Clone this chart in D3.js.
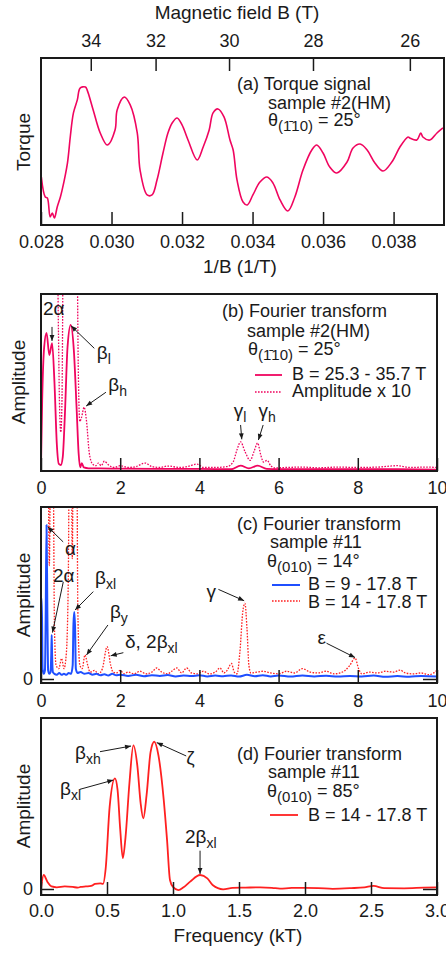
<!DOCTYPE html>
<html>
<head>
<meta charset="utf-8">
<script src="https://cdn.jsdelivr.net/npm/d3@7"></script>
<style>
body { margin: 0; background: #fff; }
svg { font-family: "Liberation Sans", Arial, Helvetica, sans-serif; }
</style>
</head>
<body>
<svg id="chart" width="446" height="953"></svg>
<script>
// PANEL (a) TORQUE SIGNAL vs 1/B
var torqueInvB = [0.02801, 0.02812, 0.02818, 0.02826, 0.02832, 0.02838, 0.02846, 0.02855, 0.02860, 0.02875, 0.02883, 0.02892, 0.02903, 0.02911, 0.02926, 0.02931, 0.02948, 0.02968, 0.02988, 0.03010, 0.03016, 0.03036, 0.03053, 0.03073, 0.03081, 0.03101, 0.03115, 0.03129, 0.03146, 0.03160, 0.03172, 0.03186, 0.03200, 0.03217, 0.03243, 0.03260, 0.03277, 0.03288, 0.03302, 0.03319, 0.03336, 0.03345, 0.03356, 0.03373, 0.03385, 0.03401, 0.03421, 0.03441, 0.03458, 0.03478, 0.03500, 0.03520, 0.03543, 0.03568, 0.03582, 0.03600, 0.03619, 0.03639, 0.03668, 0.03685, 0.03705, 0.03725, 0.03747, 0.03770, 0.03795, 0.03818, 0.03841, 0.03846, 0.03866, 0.03877, 0.03883, 0.03903, 0.03923, 0.03940];
var torqueSignal = [28.7, 16.8, 16.2, 4.8, 7.2, 4.2, 10.8, 16.8, 21.0, 37.1, 52.7, 67.1, 74.9, 82.0, 82.6, 80.8, 68.9, 55.1, 47.9, 56.9, 68.9, 76.6, 71.9, 55.1, 32.9, 18.0, 18.0, 26.9, 43.1, 55.1, 61.1, 64.1, 59.9, 50.9, 38.9, 46.7, 56.9, 67.1, 69.5, 64.7, 50.9, 44.9, 26.9, 13.8, 12.0, 18.0, 25.7, 28.7, 25.1, 15.0, 8.4, 16.8, 32.9, 44.9, 47.9, 43.1, 34.7, 31.1, 37.7, 46.1, 48.5, 44.9, 37.1, 32.3, 37.7, 46.7, 52.7, 52.1, 50.9, 55.1, 52.7, 50.9, 55.1, 58.1];
var invBTicks = [0.028, 0.030, 0.032, 0.034, 0.036, 0.038];
var fieldTicks = [34, 32, 30, 28, 26];

// PANEL (b) FFT sample #2
var fftBFreq = [0, 0.03, 0.08, 0.14, 0.21, 0.28, 0.34, 0.40, 0.45, 0.50, 0.55, 0.60, 0.67, 0.75, 0.83, 0.90, 0.95, 0.99, 1.03, 1.08, 1.2, 1.5, 2, 3, 4, 4.8, 5.04, 5.25, 5.47, 5.7, 6, 7, 8, 9, 10];
var fftBAmp = [2, 40, 70, 78, 65.5, 72.3, 50, 15, 4, 3.4, 8, 30, 70, 82.5, 68, 35, 10, 2, 4.5, 2, 1.5, 1.5, 1.3, 1.2, 1.2, 1, 3, 1.5, 3, 1.2, 1, 1, 1, 1, 0.8];
var fftBx10Freq = [0, 0.40, 0.44, 0.47, 0.50, 0.53, 0.57, 0.90, 0.94, 0.98, 1.02, 1.09, 1.15, 1.22, 1.3, 1.38, 1.45, 1.52, 1.6, 1.7, 1.85, 2.0, 2.2, 2.4, 2.63, 2.8, 3.0, 3.2, 3.5, 3.7, 3.94, 4.1, 4.4, 4.7, 4.85, 4.95, 5.04, 5.15, 5.28, 5.38, 5.47, 5.55, 5.62, 5.71, 5.8, 5.9, 6.2, 6.6, 7.0, 7.5, 8.0, 8.5, 9.0, 9.3, 9.7, 10];
var fftBx10Amp = [150, 150, 80, 35, 22, 40, 150, 150, 60, 28, 30, 36, 28, 10, 4, 3, 4.5, 3, 5.5, 3.5, 2, 3, 2, 2.5, 4.5, 2.5, 2, 2.8, 2, 2.5, 3.9, 2, 2, 2.5, 5, 12, 16.5, 11, 6, 11, 15.8, 9, 5, 6, 3, 1.7, 2, 2.2, 1.8, 2.2, 2, 2.2, 3, 2, 2.2, 2];
var freqTicks = [0, 2, 4, 6, 8, 10];

// PANEL (c) FFT sample #11, 14 deg
var fftCBlueFreq = [0, 0.02, 0.04, 0.07, 0.1, 0.12, 0.14, 0.16, 0.18, 0.21, 0.24, 0.26, 0.27, 0.28, 0.3, 0.34, 0.4, 0.46, 0.52, 0.58, 0.64, 0.7, 0.76, 0.8, 0.82, 0.84, 0.86, 0.88, 0.92, 1.0, 1.1, 1.2, 1.3, 1.4, 1.5, 1.6, 1.7, 1.8, 1.9, 2.0, 2.2, 2.4, 2.6, 2.8, 3.0, 3.2, 3.4, 3.6, 3.8, 4.0, 4.2, 4.4, 4.6, 4.8, 5.0, 5.2, 5.4, 5.6, 5.8, 6.0, 6.3, 6.6, 6.9, 7.2, 7.5, 7.8, 8.1, 8.4, 8.7, 9.0, 9.3, 9.6, 10];
var fftCBlueAmp = [47, 47, 6, 3, 5, 40, 89.5, 40, 5, 3, 4, 15, 25.6, 14, 4, 3, 2.5, 3.5, 2.5, 3, 2.5, 3.5, 3, 8, 32, 39, 30, 6, 3.5, 4, 3, 3.5, 2.5, 3, 2.2, 2.8, 2, 3, 2.2, 2.5, 1.8, 2.4, 1.6, 2.2, 1.8, 2.3, 1.5, 2, 1.7, 2.2, 1.5, 2, 1.6, 2.1, 1.4, 2.4, 1.6, 2.2, 1.5, 2, 1.4, 2, 1.5, 1.9, 1.4, 1.8, 1.5, 2, 1.3, 1.7, 1.3, 1.8, 1.5];
var fftCRedFreq = [0, 0.17, 0.21, 0.25, 0.3, 0.34, 0.38, 0.45, 0.52, 0.58, 0.64, 0.69, 0.72, 0.76, 0.79, 0.82, 0.9, 0.93, 0.98, 1.04, 1.11, 1.18, 1.24, 1.35, 1.45, 1.55, 1.67, 1.76, 1.82, 1.9, 2.0, 2.1, 2.2, 2.35, 2.5, 2.65, 2.8, 2.92, 3.05, 3.2, 3.3, 3.43, 3.55, 3.68, 3.8, 3.95, 4.1, 4.25, 4.4, 4.52, 4.62, 4.7, 4.81, 4.88, 4.95, 5.02, 5.1, 5.15, 5.2, 5.25, 5.3, 5.45, 5.6, 5.8, 6.0, 6.2, 6.4, 6.6, 6.8, 7.0, 7.2, 7.4, 7.55, 7.68, 7.8, 7.93, 8.02, 8.1, 8.3, 8.5, 8.7, 8.9, 9.07, 9.2, 9.4, 9.6, 9.8, 10];
var fftCRedAmp = [150, 150, 66, 150, 150, 30, 8, 6, 12, 6, 15, 60, 150, 150, 70, 150, 150, 40, 8, 6, 14, 8, 4, 5, 3, 6, 18.8, 8, 4, 3.5, 5, 3, 4, 3, 4.5, 3, 4, 6.4, 4, 3, 4.5, 6.4, 3.5, 6.4, 3.5, 3, 4.5, 3, 4, 6.4, 3.5, 5, 9, 4, 3, 15, 40, 44, 30, 8, 3.5, 4, 4.5, 3.5, 3, 4.5, 3.5, 6, 4, 3.5, 4.5, 3, 3.5, 5, 8, 12.2, 6, 3, 4, 3.5, 4.5, 4, 5.2, 3.5, 3, 3.5, 2.5, 5];

// PANEL (d) FFT sample #11, 85 deg
var fftDFreq = [0, 0.02, 0.05, 0.08, 0.12, 0.18, 0.24, 0.28, 0.3, 0.34, 0.38, 0.41, 0.45, 0.47, 0.49, 0.52, 0.56, 0.58, 0.6, 0.62, 0.64, 0.67, 0.7, 0.73, 0.755, 0.775, 0.8, 0.83, 0.858, 0.89, 0.93, 0.955, 0.977, 1.0, 1.04, 1.08, 1.13, 1.205, 1.26, 1.3, 1.38, 1.45, 1.55, 1.66, 1.75, 1.81, 1.9, 2.0, 2.1, 2.21, 2.35, 2.45, 2.52, 2.6, 2.75, 2.9, 3.0];
var fftDAmp = [0, 8.2, 4, 1.5, 1, 1.5, 1.2, 0.8, 1.2, 1.5, 1.8, 3, 3.3, 3, 12, 48, 64.7, 58, 35, 18, 30, 62, 84, 72, 50, 41.3, 55, 80, 86.1, 78, 52, 28.6, 5.3, 1.2, -0.6, 1, 4.3, 8.2, 6.2, 2.3, -0.2, 0.6, 0.8, 1, 0.7, 0.2, 0.6, 0.6, 0.5, 0.1, 0.5, 1, 1.8, 0.5, 0.4, 0.8, 1];
var kTTicks = [0, 0.5, 1.0, 1.5, 2.0, 2.5, 3.0];

// colours
var pink = "#f0055f";
var blue = "#1f4fff";
var red = "#ff2020";
var ink = "#1a1a1a";

var svg = d3.select("#chart");
var defs = svg.append("defs");
defs.append("marker")
    .attr("id", "arrow")
    .attr("viewBox", "0 0 10 10")
    .attr("refX", 10).attr("refY", 5)
    .attr("markerWidth", 8).attr("markerHeight", 6)
    .attr("markerUnits", "userSpaceOnUse")
    .attr("orient", "auto")
    .append("path").attr("d", "M0,1 L10,5 L0,9 Z").attr("fill", ink);

// SCALES FOR THE FOUR PANELS
var xA = d3.scaleLinear().domain([0.028, 0.03943]).range([41, 444]);
var yA = d3.scaleLinear().domain([0, 100]).range([225, 58]);
var xB = d3.scaleLinear().domain([0, 10]).range([41, 437]);
var yB = d3.scaleLinear().domain([0, 100]).range([471, 294]);
var xC = d3.scaleLinear().domain([0, 10]).range([41, 437]);
var yC = d3.scaleLinear().domain([0, 100]).range([679, 507]);
var xD = d3.scaleLinear().domain([0, 3]).range([41, 437]);
var yD = d3.scaleLinear().domain([0, 100]).range([889, 718]);

function pairs(xs, ys) {
    return xs.map(function (x, i) { return [x, ys[i]]; });
}

function clipBox(id, x0, y0, x1, y1) {
    defs.append("clipPath").attr("id", id)
        .append("rect").attr("x", x0).attr("y", y0).attr("width", x1 - x0).attr("height", y1 - y0);
}

function drawCurve(xs, ys, xs_, ys_, color, width, dash, clip, curve) {
    var line = d3.line()
        .x(function (d) { return xs_(d[0]); })
        .y(function (d) { return ys_(d[1]); })
        .curve(curve || d3.curveMonotoneX);
    svg.append("path")
        .datum(pairs(xs, ys))
        .attr("d", line)
        .attr("fill", "none")
        .attr("stroke", color)
        .attr("stroke-width", width)
        .attr("stroke-dasharray", dash)
        .attr("stroke-linejoin", "round")
        .attr("clip-path", "url(#" + clip + ")");
}

function styleAxis(g, size) {
    g.select(".domain").remove();
    g.selectAll(".tick line").attr("stroke", ink).attr("stroke-width", 1.5);
    g.selectAll(".tick text").attr("fill", ink).attr("font-size", size)
        .attr("font-family", "'Liberation Sans', Arial, sans-serif");
}

function bottomAxis(scale, y, values, fmt, pad) {
    var g = svg.append("g").attr("transform", "translate(0," + y + ")")
        .call(d3.axisBottom(scale).tickValues(values).tickFormat(fmt)
            .tickSize(-13).tickSizeOuter(0).tickPadding(pad));
    styleAxis(g, 18);
}

function zeroTicks(yScale, x0, x1, label) {
    var gl = svg.append("g").attr("transform", "translate(" + x0 + ",0)")
        .call(d3.axisLeft(yScale).tickValues([0]).tickFormat(label ? d3.format("d") : "")
            .tickSize(-13).tickSizeOuter(0).tickPadding(8));
    styleAxis(gl, 18);
    var gr = svg.append("g").attr("transform", "translate(" + x1 + ",0)")
        .call(d3.axisRight(yScale).tickValues([0]).tickFormat("")
            .tickSize(-14).tickSizeOuter(0));
    styleAxis(gr, 18);
}

function frame(x0, y0, x1, y1) {
    svg.append("rect").attr("x", x0).attr("y", y0)
        .attr("width", x1 - x0).attr("height", y1 - y0)
        .attr("fill", "none").attr("stroke", ink).attr("stroke-width", 2);
}

function label(x, y, txt, size, anchor, rotate) {
    var t = svg.append("text")
        .attr("font-size", size).attr("fill", ink)
        .attr("text-anchor", anchor || "start")
        .text(txt);
    if (rotate) t.attr("transform", "translate(" + x + "," + y + ") rotate(-90)");
    else t.attr("x", x).attr("y", y);
    return t;
}

// theta line: θ_(sub) = value
function thetaLine(x, y, sub, rest) {
    var t = svg.append("text").attr("x", x).attr("y", y).attr("font-size", 18).attr("fill", ink);
    t.append("tspan").text("θ");
    t.append("tspan").attr("dy", 5).attr("font-size", 15).text(sub);
    t.append("tspan").attr("dy", -5).text(rest);
}

function annotate(list, xs_, ys_) {
    list.forEach(function (a) {
        svg.append("line")
            .attr("x1", xs_(a.ax0)).attr("y1", ys_(a.ay0))
            .attr("x2", xs_(a.ax1)).attr("y2", ys_(a.ay1))
            .attr("stroke", ink).attr("stroke-width", 1)
            .attr("marker-end", "url(#arrow)");
        var t = svg.append("text").attr("x", xs_(a.tx)).attr("y", ys_(a.ty))
            .attr("font-size", 19).attr("fill", ink);
        t.append("tspan").text(a.text);
        if (a.sub) t.append("tspan").attr("dy", 5).attr("font-size", 14).text(a.sub);
    });
}

function legendLine(x0, x1, y, color, width, dash) {
    svg.append("line").attr("x1", x0).attr("x2", x1).attr("y1", y).attr("y2", y)
        .attr("stroke", color).attr("stroke-width", width).attr("stroke-dasharray", dash);
}

// ---------- PANEL (a) ----------
clipBox("clipA", 41, 58, 444, 225);
drawCurve(torqueInvB, torqueSignal, xA, yA, pink, 1.6, null, "clipA", d3.curveCatmullRom);
bottomAxis(xA, 225, invBTicks, d3.format(".3f"), 10.5);
var topAx = svg.append("g").attr("transform", "translate(0,58)")
    .call(d3.axisTop(xA).tickValues(fieldTicks.map(function (b) { return 1 / b; }))
        .tickFormat(function (d) { return Math.round(1 / d); })
        .tickSize(-13).tickSizeOuter(0).tickPadding(11.5));
styleAxis(topAx, 18);
frame(41, 58, 444, 225);
label(237, 19, "Magnetic field B (T)", 19, "middle");
label(240, 273, "1/B (1/T)", 19, "middle");
label(30, 142, "Torque", 19, "middle", true);
label(237, 90, "(a) Torque signal", 18);
label(268, 109, "sample #2(HM)", 18);
thetaLine(268, 126, "(1\u030410)", " = 25°");

// ---------- PANEL (b) ----------
clipBox("clipB", 41, 294, 437, 471);
drawCurve(fftBx10Freq, fftBx10Amp, xB, yB, pink, 1.3, "1.6,1.4", "clipB");
drawCurve(fftBFreq, fftBAmp, xB, yB, pink, 1.8, null, "clipB");
bottomAxis(xB, 471, freqTicks, d3.format("d"), 10.5);
frame(41, 294, 437, 471);
label(25, 382, "Amplitude", 19, "middle", true);
label(222, 317, "(b) Fourier transform", 18);
label(247, 337, "sample #2(HM)", 18);
thetaLine(248, 355, "(1\u030410)", " = 25°");
legendLine(255, 282, 375, pink, 1.8, null);
label(292, 380, "B = 25.3 - 35.7 T", 18);
legendLine(255, 282, 392, pink, 1.3, "1.6,1.4");
label(292, 397, "Amplitude x 10", 18);
annotate([
    { text: "2α", tx: 0.05, ty: 88.1, ax0: 0.278, ay0: 81.4, ax1: 0.278, ay1: 73.5 },
    { text: "β", sub: "l", tx: 1.41, ty: 63.3, ax0: 1.346, ay0: 69.3, ax1: 0.76, ay1: 82 },
    { text: "β", sub: "h", tx: 1.7, ty: 45.2, ax0: 1.64, ay0: 44.5, ax1: 1.14, ay1: 36.7 },
    { text: "γ", sub: "l", tx: 4.87, ty: 30.7, ax0: 5.04, ay0: 26, ax1: 5.07, ay1: 17.9 },
    { text: "γ", sub: "h", tx: 5.49, ty: 30.7, ax0: 5.61, ay0: 26, ax1: 5.49, ay1: 17.5 }
], xB, yB);

// ---------- PANEL (c) ----------
clipBox("clipC", 41, 507, 437, 683);
drawCurve(fftCRedFreq, fftCRedAmp, xC, yC, red, 1.3, "1.6,1.4", "clipC");
drawCurve(fftCBlueFreq, fftCBlueAmp, xC, yC, blue, 2, null, "clipC");
bottomAxis(xC, 683, freqTicks, d3.format("d"), 10.8);
zeroTicks(yC, 41, 437, true);
frame(41, 507, 437, 683);
label(30, 595, "Amplitude", 19, "middle", true);
label(237, 530, "(c) Fourier transform", 18);
label(270, 548, "sample #11", 18);
thetaLine(267, 567, "(010)", " = 14°");
legendLine(272, 300, 585, blue, 2, null);
label(308, 590, "B = 9 - 17.8 T", 18);
legendLine(272, 300, 601, red, 1.3, "1.6,1.4");
label(308, 608, "B = 14 - 17.8 T", 18);
annotate([
    { text: "α", tx: 0.606, ty: 72.1, ax0: 0.56, ay0: 79.7, ax1: 0.17, ay1: 88.5 },
    { text: "2α", tx: 0.303, ty: 56.4, ax0: 0.563, ay0: 56.5, ax1: 0.29, ay1: 27 },
    { text: "β", sub: "xl", tx: 1.364, ty: 55, ax0: 1.32, ay0: 50.8, ax1: 0.86, ay1: 40.1 },
    { text: "β", sub: "y", tx: 1.74, ty: 35.6, ax0: 1.69, ay0: 31.4, ax1: 1.15, ay1: 14 },
    { text: "δ, 2β", sub: "xl", tx: 2.12, ty: 17.8, ax0: 2.08, ay0: 15.3, ax1: 1.76, ay1: 13.5 },
    { text: "γ", tx: 4.18, ty: 47.1, ax0: 4.48, ay0: 52.1, ax1: 5.13, ay1: 45.5 },
    { text: "ε", tx: 6.98, ty: 20.3, ax0: 7.21, ay0: 20.8, ax1: 7.93, ay1: 12.5 }
], xC, yC);

// ---------- PANEL (d) ----------
clipBox("clipD", 41, 718, 437, 895);
drawCurve(fftDFreq, fftDAmp, xD, yD, red, 1.8, null, "clipD");
bottomAxis(xD, 895, kTTicks, d3.format(".1f"), 9);
zeroTicks(yD, 41, 437, true);
frame(41, 718, 437, 895);
label(30, 806, "Amplitude", 19, "middle", true);
label(238, 942, "Frequency (kT)", 19, "middle");
label(237, 760, "(d) Fourier transform", 18);
label(268, 778, "sample #11", 18);
thetaLine(267, 797, "(010)", " = 85°");
legendLine(270, 298, 815, red, 1.8, null);
label(308, 821, "B = 14 - 17.8 T", 18);
annotate([
    { text: "β", sub: "xh", tx: 0.258, ty: 76.2, ax0: 0.447, ay0: 80.3, ax1: 0.682, ay1: 83.6 },
    { text: "β", sub: "xl", tx: 0.144, ty: 54.8, ax0: 0.295, ay0: 58.3, ax1: 0.548, ay1: 63.7 },
    { text: "ζ", tx: 1.10, ty: 73.1, ax0: 1.10, ay0: 77.8, ax1: 0.877, ay1: 85.6 },
    { text: "2β", sub: "xl", tx: 1.09, ty: 26.7, ax0: 1.205, ay0: 22.4, ax1: 1.205, ay1: 8.8 }
], xD, yD);
</script>
</body>
</html>
